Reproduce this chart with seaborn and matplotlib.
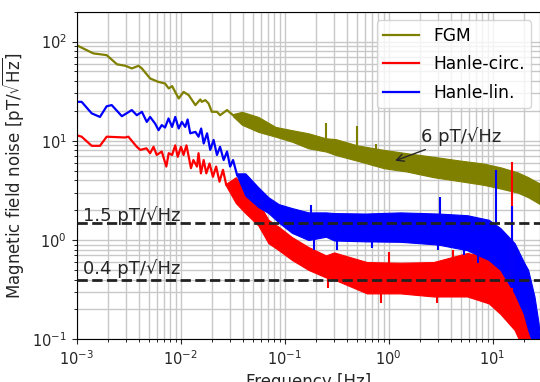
import numpy as np
import pandas as pd
import seaborn as sns
import matplotlib.pyplot as plt

# low-frequency traces (Hz, pT/sqrt(Hz))
fgm_f = [1.0e-3, 1.45e-3, 1.95e-3, 2.45e-3, 2.95e-3, 3.4e-3, 3.95e-3, 4.25e-3, 5.1e-3, 6.1e-3,
         7.1e-3, 7.7e-3, 8.3e-3, 9.6e-3, 1.07e-2, 1.2e-2, 1.39e-2, 1.55e-2, 1.6e-2, 1.73e-2,
         1.86e-2, 2.0e-2, 2.24e-2, 2.4e-2, 2.8e-2, 3.2e-2]
fgm_v = [92, 76, 73, 59, 57, 53.6, 57, 53.6, 42.5, 39.3,
         37.8, 33.7, 35.6, 26.7, 31.1, 28.8, 22.9, 26.1, 24.7, 25.7,
         23.8, 19.6, 19.6, 18.1, 20.4, 18.1]

lin_f = [1.0e-3, 1.12e-3, 1.4e-3, 1.68e-3, 1.95e-3, 2.18e-3, 2.73e-3, 3.4e-3, 3.8e-3, 4.25e-3,
         4.74e-3, 5.1e-3, 5.7e-3, 6.15e-3, 6.6e-3, 7.1e-3, 7.67e-3, 8.3e-3, 8.9e-3, 9.6e-3,
         1.03e-2, 1.11e-2, 1.17e-2, 1.24e-2, 1.39e-2, 1.49e-2, 1.58e-2, 1.67e-2, 1.8e-2, 1.93e-2,
         2.08e-2, 2.24e-2, 2.4e-2, 2.6e-2, 2.8e-2, 3.0e-2, 3.2e-2, 3.5e-2]
lin_v = [24.7, 24.7, 18.9, 17.4, 22.3, 22.9, 17.7, 20.4, 18.1, 19.6,
         15.5, 17.4, 14.9, 12.8, 14.4, 13.6, 16.8, 13.8, 17.4, 13.3,
         15.5, 13.8, 16.4, 11.9, 12.3, 11.0, 13.3, 9.4, 11.9, 8.1,
         10.2, 7.2, 8.7, 6.4, 7.8, 5.5, 6.4, 4.5]

circ_f = [1.0e-3, 1.12e-3, 1.4e-3, 1.68e-3, 1.95e-3, 2.93e-3, 3.15e-3, 3.8e-3, 4.1e-3, 4.7e-3,
          5.1e-3, 5.5e-3, 5.9e-3, 6.6e-3, 7.3e-3, 7.7e-3, 8.3e-3, 8.9e-3, 9.4e-3, 1.01e-2,
          1.07e-2, 1.14e-2, 1.2e-2, 1.26e-2, 1.33e-2, 1.44e-2, 1.49e-2, 1.57e-2, 1.67e-2, 1.77e-2,
          1.9e-2, 2.05e-2, 2.2e-2, 2.37e-2, 2.56e-2, 2.75e-2]
circ_v = [11.4, 11.0, 8.9, 8.9, 11.0, 10.8, 11.0, 8.7, 8.1, 8.4,
          7.5, 8.7, 7.2, 7.8, 5.5, 7.5, 7.2, 9.0, 6.9, 8.7,
          7.2, 9.0, 6.9, 5.3, 6.4, 5.5, 7.5, 4.7, 6.4, 4.7,
          5.9, 4.34, 5.5, 3.87, 5.1, 3.6]

# dense high-frequency part: lower / upper edge of the noise band
fgm_band_f = [0.032, 0.039, 0.056, 0.082, 0.118, 0.17, 0.25, 0.31, 0.5, 0.9,
              1.5, 2.7, 5.0, 8.2, 12, 17.5, 22, 28.6]
fgm_band_lo = [17.6, 14.5, 12.3, 11.0, 9.8, 8.4, 7.8, 7.2, 6.3, 5.3,
               4.9, 4.3, 3.9, 3.6, 3.3, 3.0, 2.7, 2.3]
fgm_band_hi = [18.6, 19.6, 17.4, 13.8, 12.8, 11.9, 10.6, 10.4, 9.0, 8.1,
               7.5, 6.9, 6.3, 5.9, 5.4, 4.8, 4.3, 3.7]

lin_band_f = [0.035, 0.042, 0.056, 0.07, 0.088, 0.118, 0.17, 0.25, 0.3, 0.6,
              1.3, 3.0, 5.7, 9.2, 11.9, 16.3, 20, 22, 25.3, 27.7, 28.6]
lin_band_lo = [4.4, 2.8, 2.15, 1.87, 1.5, 1.18, 1.0, 1.08, 0.99, 0.97,
               0.96, 0.9, 0.79, 0.63, 0.5, 0.29, 0.18, 0.124, 0.08, 0.08, 0.08]
lin_band_hi = [4.7, 4.7, 3.4, 2.7, 2.3, 2.1, 1.9, 1.9, 1.87, 1.85,
               1.9, 1.85, 1.78, 1.6, 1.32, 0.93, 0.6, 0.5, 0.27, 0.146, 0.1]

circ_band_f = [0.0275, 0.034, 0.042, 0.056, 0.07, 0.088, 0.118, 0.17, 0.25, 0.3,
               0.62, 1.3, 2.7, 5.7, 9.2, 11.9, 16.3, 19.7, 22, 24]
circ_band_lo = [3.5, 2.36, 1.87, 1.4, 0.93, 0.79, 0.63, 0.5, 0.42, 0.4,
                0.29, 0.29, 0.27, 0.27, 0.23, 0.18, 0.124, 0.08, 0.08, 0.08]
circ_band_hi = [3.7, 4.3, 3.2, 2.4, 1.6, 1.36, 1.07, 0.85, 0.7, 0.75,
                0.6, 0.59, 0.6, 0.74, 0.68, 0.5, 0.31, 0.2, 0.124, 0.09]

# narrow spectral lines and dips: (frequency, low, high)
fgm_spikes = [(0.25, 10.0, 15.0), (0.5, 8.5, 14.0), (0.76, 7.8, 9.2)]
lin_spikes = [(0.18, 1.8, 2.25), (3.1, 1.8, 2.7), (10.7, 1.5, 5.1), (15.4, 0.33, 2.2),
              (0.19, 0.8, 1.1), (0.32, 0.79, 1.1), (0.7, 0.83, 1.1), (3.0, 0.79, 1.0),
              (5.3, 0.7, 0.9), (7.3, 0.59, 0.8)]
circ_spikes = [(1.0, 0.55, 0.76), (4.2, 0.6, 0.79), (15.4, 0.3, 6.1),
               (0.26, 0.33, 0.5), (0.84, 0.23, 0.35), (2.9, 0.23, 0.35)]

levels = [1.5, 0.4]
level_text_y = [1.56, 0.46]
level_labels = ['1.5 pT/√Hz', '0.4 pT/√Hz']

series = [
    ('FGM', 'olive', fgm_f, fgm_v, fgm_band_f, fgm_band_lo, fgm_band_hi, fgm_spikes),
    ('Hanle-circ.', 'red', circ_f, circ_v, circ_band_f, circ_band_lo, circ_band_hi, circ_spikes),
    ('Hanle-lin.', 'blue', lin_f, lin_v, lin_band_f, lin_band_lo, lin_band_hi, lin_spikes),
]

fig = plt.figure(figsize=(5.4, 3.82), dpi=100)
ax = fig.add_axes([0.1417, 0.1118, 0.8583, 0.8576])

for name, col, f, v, bf, blo, bhi, spikes in series:
    df = pd.DataFrame({'f': f, 'v': v})
    sns.lineplot(data=df, x='f', y='v', color=col, lw=1.6, ax=ax, label=name)
    ax.fill_between(bf, blo, bhi, color=col, lw=0.8, edgecolor=col)
    for sf, lo, hi in spikes:
        ax.vlines(sf, lo, hi, color=col, lw=1.5)

for lev in levels:
    ax.axhline(lev, color='#222222', ls='--', lw=2, zorder=5)
for ty, lab in zip(level_text_y, level_labels):
    ax.text(1.15e-3, ty, lab, fontsize=13, color='#262626', va='baseline', zorder=6)

ax.annotate('6 pT/√Hz', xy=(1.09, 6.15), xytext=(2.04, 9.77), fontsize=13, color='#262626',
            va='baseline', arrowprops=dict(arrowstyle='->', color='#262626', lw=1))

ax.set_xscale('log')
ax.set_yscale('log')
ax.set_xlim(1e-3, 28.6)
ax.set_ylim(0.1, 200)
ax.grid(True, which='both', color='#c8c8c8', lw=1)
ax.set_axisbelow(True)
ax.tick_params(labelsize=10.5, colors='#262626')
ax.set_xlabel('Frequency [Hz]', fontsize=12, color='#262626')
ax.set_ylabel(r'Magnetic field noise [pT/$\sqrt{\mathrm{Hz}}$]', fontsize=12, color='#262626')
ax.legend(loc='upper right', fontsize=12.3, labelspacing=0.6, handlelength=2.1)

fig.savefig('out.png', dpi=100)
